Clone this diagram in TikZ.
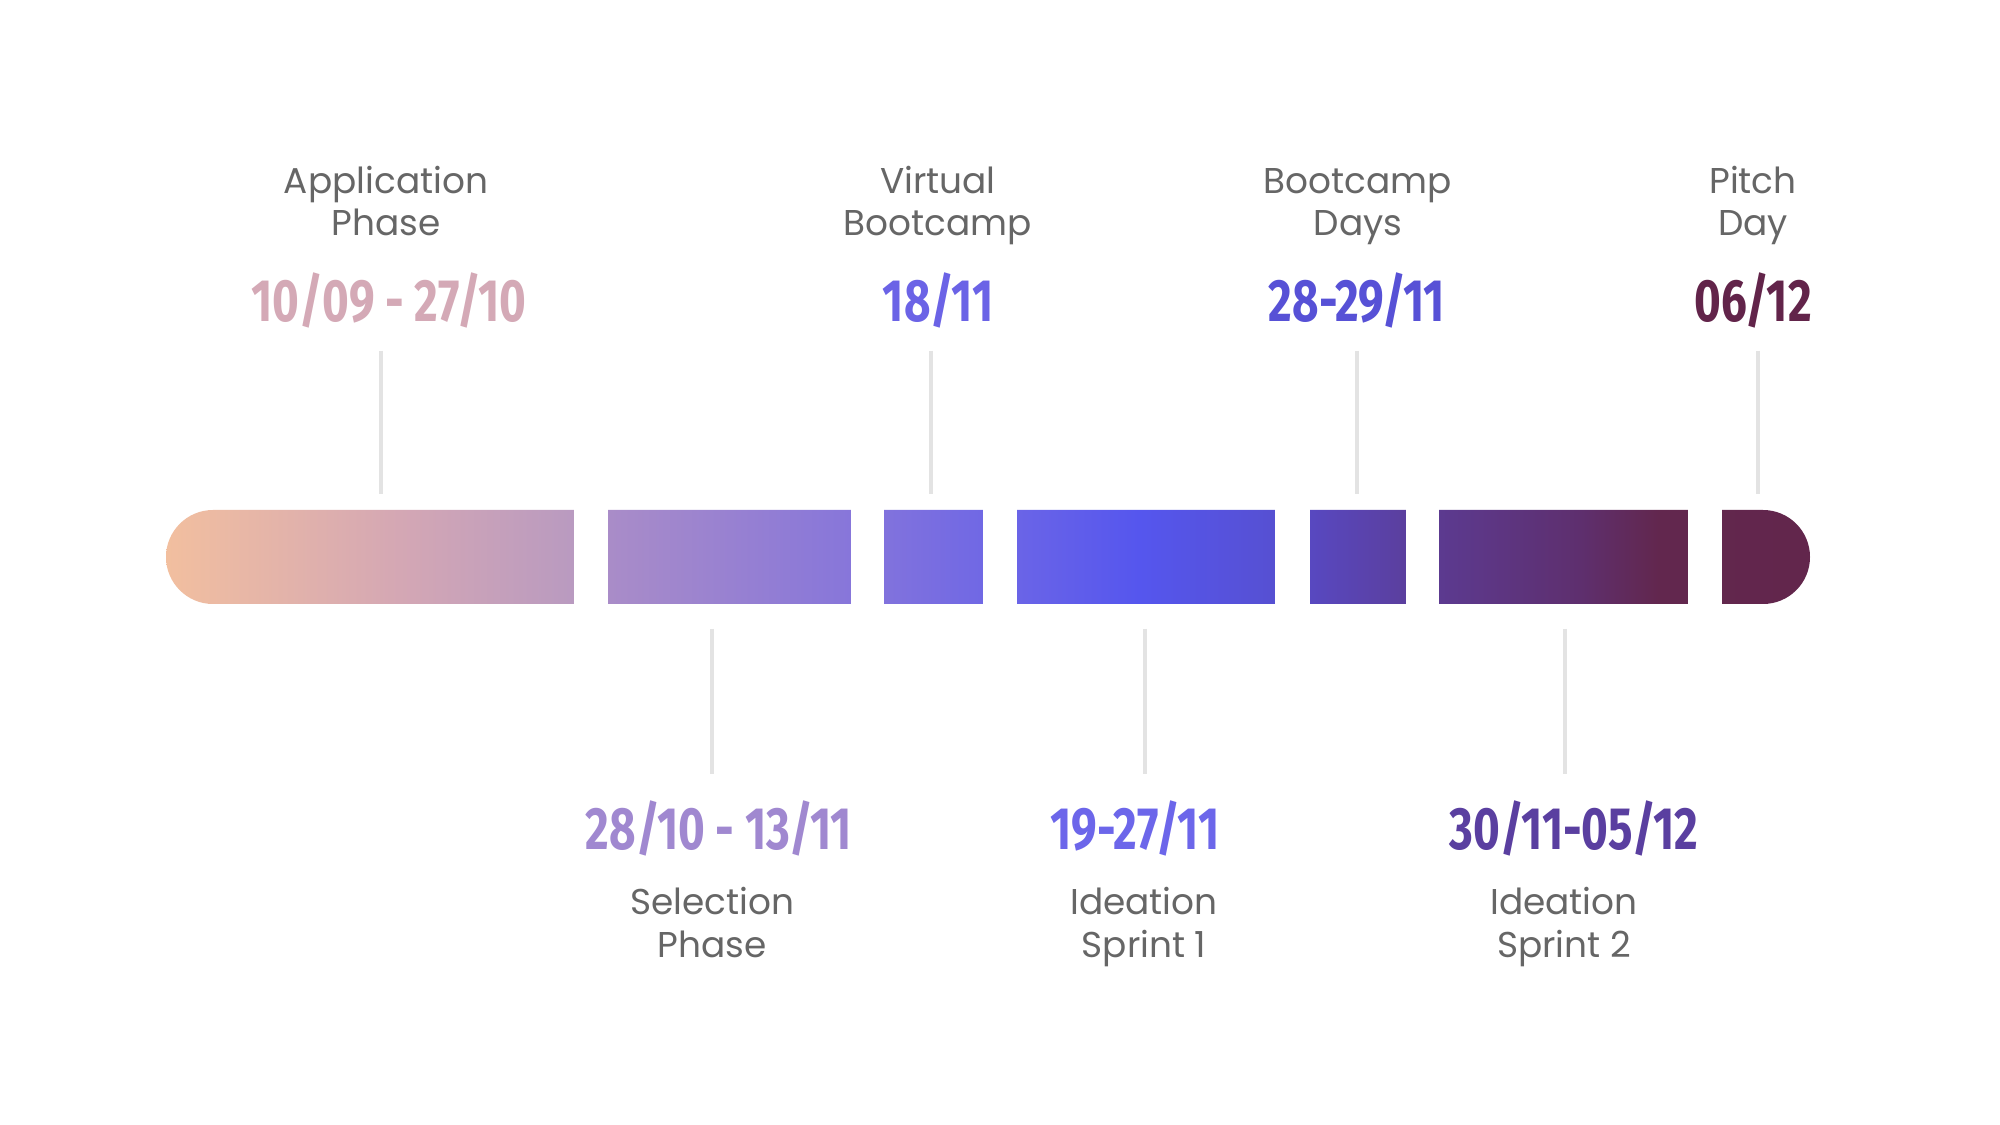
\documentclass[tikz,border=0pt]{standalone}
\usepackage{fontspec}
\newfontfamily\labfont{Poppins}
\newfontfamily\datefont[FakeStretch=0.765]{Fira Sans}
\definecolor{c0}{HTML}{F2BF9F}
\definecolor{c1}{HTML}{D4A7B4}
\definecolor{c2}{HTML}{B99AC0}
\definecolor{c3}{HTML}{A98CC8}
\definecolor{c4}{HTML}{8776DA}
\definecolor{c5}{HTML}{6D66E6}
\definecolor{c6}{HTML}{5556EE}
\definecolor{c7}{HTML}{5650D2}
\definecolor{c8}{HTML}{5848C0}
\definecolor{c9}{HTML}{5B3F9E}
\definecolor{c10}{HTML}{5C3A90}
\definecolor{c11}{HTML}{5E2F6E}
\definecolor{c12}{HTML}{62274E}
\definecolor{c13}{HTML}{62264C}
\definecolor{labgrey}{HTML}{666666}
\definecolor{tickgrey}{HTML}{E3E3E3}
\definecolor{dA}{HTML}{D4A9B6}
\definecolor{dB}{HTML}{A088D0}
\definecolor{dC}{HTML}{6B63E6}
\definecolor{dD}{HTML}{6C66EA}
\definecolor{dE}{HTML}{5751D6}
\definecolor{dF}{HTML}{5A3FA0}
\definecolor{dG}{HTML}{62244A}
\pgfdeclarehorizontalshading{barshade}{100bp}{color(0bp)=(c0); color(25bp)=(c0); color(32.1bp)=(c1); color(37.4bp)=(c2); color(38.5bp)=(c3); color(45.8bp)=(c4); color(50.4bp)=(c5); color(54.6bp)=(c6); color(58.7bp)=(c7); color(59.8bp)=(c8); color(62.7bp)=(c9); color(63.7bp)=(c10); color(68bp)=(c11); color(70.4bp)=(c12); color(75bp)=(c13); color(100bp)=(c13)}
\begin{document}
\begin{tikzpicture}[x=0.01cm,y=-0.01cm,
  lab/.style={font=\labfont\fontsize{10.2pt}{11.95pt}\selectfont, text=labgrey, align=center, inner sep=0pt, anchor=base},
  datelab/.style={font=\datefont\bfseries\fontsize{17pt}{19pt}\selectfont, inner sep=0pt, anchor=base},
  tick/.style={draw=tickgrey, line width=0.9pt},
  gap/.style={fill=white}]
\useasboundingbox[fill=white] (0,0) rectangle (2000,1125);
% bar
\shade[shading=barshade, rounded corners=0.47cm] (166,510) rectangle (1810,604);
\fill[gap] (574,500) rectangle (608,614);
\fill[gap] (851,500) rectangle (884,614);
\fill[gap] (983,500) rectangle (1017,614);
\fill[gap] (1275,500) rectangle (1310,614);
\fill[gap] (1406,500) rectangle (1439,614);
\fill[gap] (1688,500) rectangle (1722,614);
% top labels (base = baseline of last line)
\node[lab] (l1) at (386,236) {Application\\Phase};
\node[lab] (l3) at (938,236) {Virtual\\Bootcamp};
\node[lab] (l5) at (1358,236) {Bootcamp\\Days};
\node[lab] (l7) at (1753,236) {Pitch\\Day};
\node[datelab, text=dA] (d1) at (389,322) {10/09 - 27/10};
\node[datelab, text=dC] (d3) at (938,322) {18/11};
\node[datelab, text=dE] (d5) at (1357,322) {28-29/11};
\node[datelab, text=dG] (d7) at (1753,322) {06/12};
% bottom labels
\node[datelab, text=dB] (d2) at (719,849) {28/10 - 13/11};
\node[datelab, text=dD] (d4) at (1135,849) {19-27/11};
\node[datelab, text=dF] (d6) at (1574,849) {30/11-05/12};
\node[lab] (l2) at (712,957) {Selection\\Phase};
\node[lab] (l4) at (1144,957) {Ideation\\Sprint 1};
\node[lab] (l6) at (1564,957) {Ideation\\Sprint 2};
% ticks
\coordinate (t1a) at (381,351); \coordinate (t1b) at (381,494);
\coordinate (t3a) at (931,351); \coordinate (t3b) at (931,494);
\coordinate (t5a) at (1357,351); \coordinate (t5b) at (1357,494);
\coordinate (t7a) at (1758,351); \coordinate (t7b) at (1758,494);
\coordinate (t2a) at (712,629); \coordinate (t2b) at (712,774);
\coordinate (t4a) at (1145,629); \coordinate (t4b) at (1145,774);
\coordinate (t6a) at (1565,629); \coordinate (t6b) at (1565,774);
\foreach \i in {1,...,7} {\draw[tick] (t\i a) -- (t\i b);}
\end{tikzpicture}
\end{document}
